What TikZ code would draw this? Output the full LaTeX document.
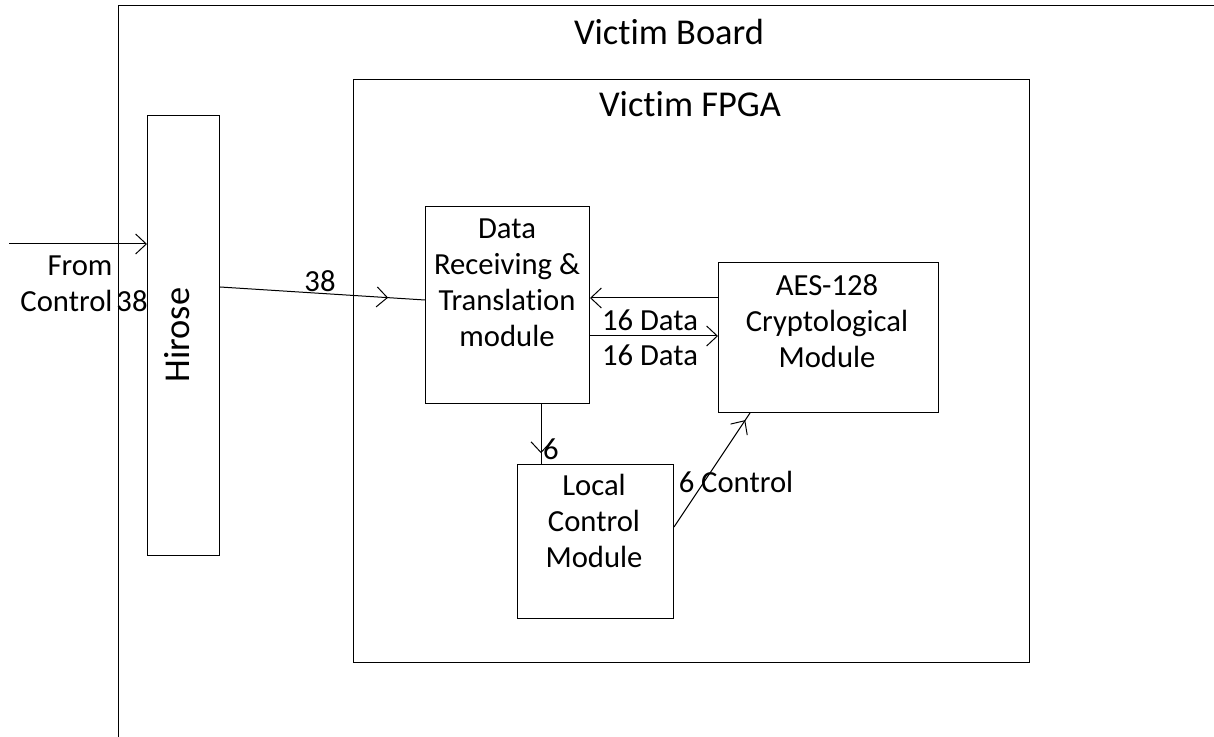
\documentclass[tikz,border=0pt]{standalone}
\usepackage{fontspec}
\setmainfont[Ligatures={NoCommon}]{Carlito}
\usetikzlibrary{arrows.meta,decorations.markings,calc}
\begin{document}
\begin{tikzpicture}[x=0.75pt,y=-0.75pt,line width=0.75pt,
  box/.style={draw,rectangle,anchor=north west,inner sep=0pt},
  lbl/.style={font=\fontsize{23}{27}\selectfont,inner sep=0pt,align=center},
  big/.style={font=\fontsize{27.3}{32}\selectfont,inner sep=0pt,align=center},
  arr/.style={-{Straight Barb[length=8pt,width=15pt,line width=0.75pt]}},
  midarr/.style={postaction={decorate},decoration={markings,
     mark=at position #1 with {\arrow{Straight Barb[length=8pt,width=15pt,line width=0.75pt]}}}}
]
\useasboundingbox (0,0) rectangle (1214,737);
% board frame (extends past the picture)
\coordinate (bTR) at (1214,6);
\coordinate (bTL) at (118,6);
\coordinate (bBL) at (118,737);
\draw (bTR) -- (bTL) -- (bBL);
\node[big] (boardT) at (669,32) {Victim Board};
% FPGA
\node[box,minimum width=507pt,minimum height=437.25pt] (fpga) at (353,79) {};
\node[big] (fpgaT) at (690,104) {Victim FPGA};
% Hirose
\node[box,minimum width=54pt,minimum height=330pt] (hir) at (147,115) {};
\node[big,rotate=90] (hirT) at (177,335) {Hirose};
% Data receiving
\node[box,minimum width=123pt,minimum height=147.75pt] (data) at (425,206) {};
\node[lbl] (dataT) at (507,283) {Data\\Receiving \&\\Translation\\module};
% AES
\node[box,minimum width=165pt,minimum height=112.5pt] (aes) at (718,262) {};
\node[lbl] (aesT) at (827,321) {AES-128\\Cryptological\\Module};
% Local control
\node[box,minimum width=117pt,minimum height=115.5pt] (loc) at (517,464) {};
\node[lbl] (locT) at (594,521) {Local\\Control\\Module};
% input
\coordinate (in) at (9,244);
\draw[arr] (in) -- (in -| hir.west);
\node[lbl,align=right,anchor=east] (fromT) at (113,283.5) {From\\Control};
\node[lbl] (in38) at (132,301) {38};
% Hirose -> Data
\coordinate (h1) at (0,287);
\coordinate (d1) at (0,300);
\draw[midarr=0.82] (hir.east |- h1) -- (data.west |- d1);
\node[lbl] (l38) at (320,281) {38};
% AES <-> Data
\coordinate (y1) at (0,298);
\coordinate (y2) at (0,336);
\draw[arr] (aes.west |- y1) -- (data.east |- y1);
\draw[arr] (data.east |- y2) -- (aes.west |- y2);
\node[lbl] (l16a) at (650,320) {16 Data};
\node[lbl] (l16b) at (650,355) {16 Data};
% Data -> Local
\coordinate (x1) at (541,0);
\draw[midarr=0.82] (data.south -| x1) -- (loc.north -| x1);
\node[lbl] (l6) at (551,449) {6};
% Local -> AES
\coordinate (yc) at (0,527);
\coordinate (xc) at (750,0);
\draw[midarr=0.94] (loc.east |- yc) -- (aes.south -| xc);
\node[lbl] (l6c) at (736,482) {6 Control};
\end{tikzpicture}
\end{document}
